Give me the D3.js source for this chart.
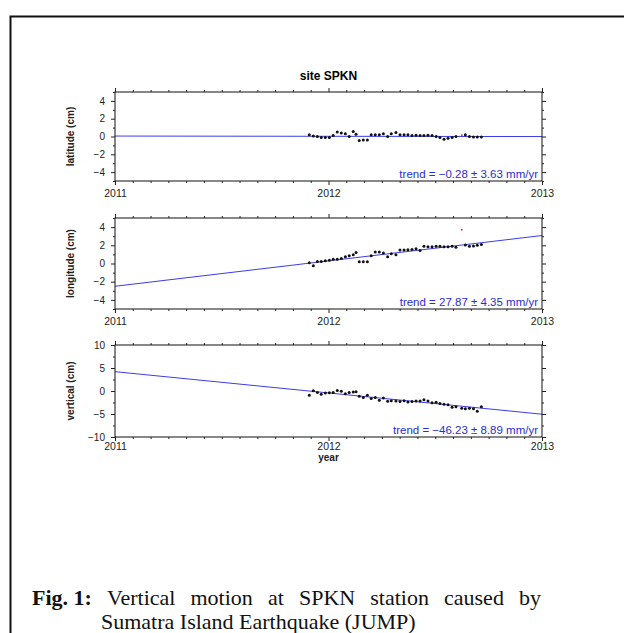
<!DOCTYPE html>
<html>
<head>
<meta charset="utf-8">
<script src="https://cdn.jsdelivr.net/npm/d3@7"></script>
<style>
  html, body { margin: 0; padding: 0; background: #fff; }
  svg { display: block; }
  .tick text { font-family: "Liberation Sans", Arial, Helvetica, sans-serif; fill: #222; }
</style>
</head>
<body>
<svg id="fig" width="624" height="633"></svg>
<script>
// GPS time series of station SPKN (decimal years, cm)
const yearTicks = [2011, 2012, 2013];

const dates = [
  2011.910, 2011.929, 2011.948, 2011.966, 2011.985, 2012.004, 2012.022, 2012.041,
  2012.060, 2012.079, 2012.097, 2012.116, 2012.129, 2012.144, 2012.163, 2012.182,
  2012.200, 2012.219, 2012.238, 2012.257, 2012.277, 2012.294, 2012.316, 2012.335,
  2012.354, 2012.372, 2012.391, 2012.410, 2012.429, 2012.447, 2012.466, 2012.485,
  2012.504, 2012.522, 2012.541, 2012.560, 2012.579, 2012.597, 2012.624, 2012.641,
  2012.660, 2012.679, 2012.697, 2012.716
];

const latitude = [
  0.20, 0.05, 0.00, -0.10, -0.10, -0.10, 0.10, 0.50,
  0.40, 0.30, 0.00, 0.55, 0.25, -0.45, -0.40, -0.40,
  0.20, 0.20, 0.20, 0.30, 0.00, 0.30, 0.45, 0.20,
  0.20, 0.20, 0.10, 0.15, 0.10, 0.10, 0.15, 0.10,
  0.00, -0.10, -0.30, -0.20, -0.10, 0.00, 0.15, 0.20,
  0.00, -0.05, -0.05, -0.05
];

const longitude = [
  0.07, -0.26, 0.22, 0.22, 0.30, 0.37, 0.48, 0.48,
  0.55, 0.74, 0.85, 0.96, 1.22, 0.18, 0.18, 0.18,
  0.85, 1.26, 1.26, 1.15, 0.74, 1.07, 0.96, 1.48,
  1.48, 1.52, 1.55, 1.63, 1.44, 1.89, 1.85, 1.85,
  1.89, 1.89, 1.85, 1.85, 1.89, 1.78, 3.70, 2.04,
  1.89, 1.93, 2.00, 2.10
];

const vertical = [
  -0.95, 0.05, -0.35, -0.70, -0.45, -0.40, -0.35, 0.10,
  -0.05, -0.60, -0.30, -0.20, -0.15, -1.15, -1.40, -0.95,
  -1.65, -1.40, -2.00, -1.50, -2.25, -2.10, -2.15, -2.30,
  -2.10, -2.40, -2.30, -2.15, -2.15, -1.90, -2.15, -2.55,
  -2.45, -2.70, -2.90, -3.00, -3.55, -3.40, -3.75, -3.85,
  -3.75, -3.85, -4.40, -3.40
];

// samples excluded from the fit (index into dates)
const latitudeRejected = [38];
const longitudeRejected = [38];
const verticalRejected = [];

// linear trend: rate and sigma in mm/yr, value at 2011.0 in cm
const trendRate = [-0.28, 27.87, -46.23];
const trendSigma = [3.63, 4.35, 8.89];
const trendAt2011 = [0.05, -2.50, 4.20];

const panelNames = ["latitude (cm)", "longitude (cm)", "vertical (cm)"];
const yDomains = [[-5, 5], [-5, 5], [-10, 10]];
const yMajor = [[-4, -2, 0, 2, 4], [-4, -2, 0, 2, 4], [-10, -5, 0, 5, 10]];
const yMinorStep = [1, 1, 2.5];

const captionLead = "Fig. 1:";
const captionLine1 = "Vertical motion at SPKN station caused by";
const captionLine2 = "Sumatra Island Earthquake (JUMP)";

const series = [latitude, longitude, vertical];
const rejected = [latitudeRejected, longitudeRejected, verticalRejected];

const svg = d3.select("#fig");
const left = 115, right = 542;
const panels = [
  { top: 92, bottom: 181, pad: 5 },
  { top: 218, bottom: 309, pad: 5 },
  { top: 345, bottom: 437, pad: 2 }
];
const sans = "'Liberation Sans', Arial, Helvetica, sans-serif";

// outer frame of the figure box
svg.append("path")
  .attr("d", "M10.5,633 L10.5,16.5 L624,16.5")
  .attr("fill", "none").attr("stroke", "#111").attr("stroke-width", 2);

// title
svg.append("text")
  .attr("x", (left + right) / 2).attr("y", 80)
  .attr("text-anchor", "middle")
  .style("font-family", sans)
  .style("font-weight", "bold").style("font-size", "12px")
  .text("site SPKN");

const x = d3.scaleLinear().domain([2011, 2013]).range([left, right]);
const months = d3.range(0, 25).map(m => 2011 + m / 12);
const minorMonths = months.filter(m => !yearTicks.some(y => Math.abs(y - m) < 1e-6));

const fmtMinus = v => (v < 0 ? "\u2212" : "") + Math.abs(v);

panels.forEach((p, i) => {
  const y = d3.scaleLinear().domain(yDomains[i]).range([p.bottom, p.top]);
  const g = svg.append("g");
  const [lo, hi] = yDomains[i];
  const yMinor = d3.range(lo, hi + 1e-9, yMinorStep[i]).filter(v => !yMajor[i].includes(v));

  // trend line across the full time span
  const rate = trendRate[i] / 10;
  const trend = t => trendAt2011[i] + rate * (t - 2011);
  g.append("line")
    .attr("x1", x(2011)).attr("y1", y(trend(2011)))
    .attr("x2", x(2013)).attr("y2", y(trend(2013)))
    .attr("stroke", "#3b3bf0").attr("stroke-width", 1);

  // observations
  const pts = dates.map((d, k) => ({ t: d, v: series[i][k], bad: rejected[i].includes(k) }));
  g.selectAll("circle.obs").data(pts.filter(d => !d.bad)).join("circle")
    .attr("class", "obs")
    .attr("cx", d => x(d.t)).attr("cy", d => y(d.v)).attr("r", 1.5)
    .attr("fill", "#111");
  g.selectAll("circle.rej").data(pts.filter(d => d.bad)).join("circle")
    .attr("class", "rej")
    .attr("cx", d => x(d.t)).attr("cy", d => y(d.v)).attr("r", 1)
    .attr("fill", "#e0303a");

  // frame
  g.append("rect")
    .attr("x", left).attr("y", p.top)
    .attr("width", right - left).attr("height", p.bottom - p.top)
    .attr("fill", "none").attr("stroke", "#111").attr("stroke-width", 1);

  const noDomain = s => s.select(".domain").remove();
  const tickStyle = s => s.selectAll("line").attr("stroke", "#222");

  // left axis: labelled majors + minors
  g.append("g").attr("transform", `translate(${left},0)`)
    .call(d3.axisLeft(y).tickValues(yMajor[i]).tickSize(4).tickPadding(6).tickFormat(fmtMinus))
    .call(noDomain).call(tickStyle)
    .selectAll("text").style("font-size", "10px");
  g.append("g").attr("transform", `translate(${left},0)`)
    .call(d3.axisLeft(y).tickValues(yMinor).tickSize(2).tickFormat(""))
    .call(noDomain).call(tickStyle);

  // right axis: ticks only
  g.append("g").attr("transform", `translate(${right},0)`)
    .call(d3.axisRight(y).tickValues(yMajor[i]).tickSize(4).tickFormat(""))
    .call(noDomain).call(tickStyle);
  g.append("g").attr("transform", `translate(${right},0)`)
    .call(d3.axisRight(y).tickValues(yMinor).tickSize(2).tickFormat(""))
    .call(noDomain).call(tickStyle);

  // top axis: yearly majors, monthly minors
  g.append("g").attr("transform", `translate(0,${p.top})`)
    .call(d3.axisTop(x).tickValues(yearTicks).tickSize(4).tickFormat(""))
    .call(noDomain).call(tickStyle);
  g.append("g").attr("transform", `translate(0,${p.top})`)
    .call(d3.axisTop(x).tickValues(minorMonths).tickSize(2).tickFormat(""))
    .call(noDomain).call(tickStyle);

  // bottom axis with year labels
  g.append("g").attr("transform", `translate(0,${p.bottom})`)
    .call(d3.axisBottom(x).tickValues(yearTicks).tickSize(4).tickPadding(p.pad).tickFormat(d3.format("d")))
    .call(noDomain).call(tickStyle)
    .selectAll("text").style("font-size", "10.5px");
  g.append("g").attr("transform", `translate(0,${p.bottom})`)
    .call(d3.axisBottom(x).tickValues(minorMonths).tickSize(2).tickFormat(""))
    .call(noDomain).call(tickStyle);

  // y-axis title
  g.append("text")
    .attr("transform", `translate(74,${(p.top + p.bottom) / 2}) rotate(-90)`)
    .attr("text-anchor", "middle")
    .style("font-family", "'Liberation Sans Narrow', 'Liberation Sans', Arial, sans-serif")
    .style("font-size", "10px").style("font-weight", "bold").style("fill", "#222")
    .text(panelNames[i]);

  // trend annotation
  g.append("text")
    .attr("x", right - 4).attr("y", p.bottom - 3)
    .attr("text-anchor", "end")
    .style("font-family", sans)
    .style("font-size", "11.5px").style("fill", "#2b2bd6")
    .text(`trend = ${fmtMinus(trendRate[i])} \u00b1 ${trendSigma[i].toFixed(2)} mm/yr`);
});

// x-axis title of the bottom panel
svg.append("text")
  .attr("x", (left + right) / 2).attr("y", 461)
  .attr("text-anchor", "middle")
  .style("font-family", sans)
  .style("font-weight", "bold").style("font-size", "10px").style("fill", "#222")
  .text("year");

// caption: first line justified between the margins, second line indented
const serif = "'Liberation Serif', 'Times New Roman', serif";
const capSize = 22;
const capLeft = 32, capRight = 541;
const words = [
  { w: captionLead, bold: true },
  ...captionLine1.split(" ").map(w => ({ w, bold: false }))
];
const cap = svg.append("g")
  .style("font-family", serif).style("font-size", capSize + "px").style("fill", "#111");
const nodes = words.map(d => cap.append("text").attr("y", 605)
  .style("font-weight", d.bold ? "bold" : "normal").text(d.w));
const widths = nodes.map(n => n.node().getComputedTextLength());
const gap = (capRight - capLeft - d3.sum(widths)) / (words.length - 1);
let cx = capLeft;
nodes.forEach((n, k) => { n.attr("x", cx); cx += widths[k] + gap; });
cap.append("text").attr("x", 101).attr("y", 629).text(captionLine2);
</script>
</body>
</html>
